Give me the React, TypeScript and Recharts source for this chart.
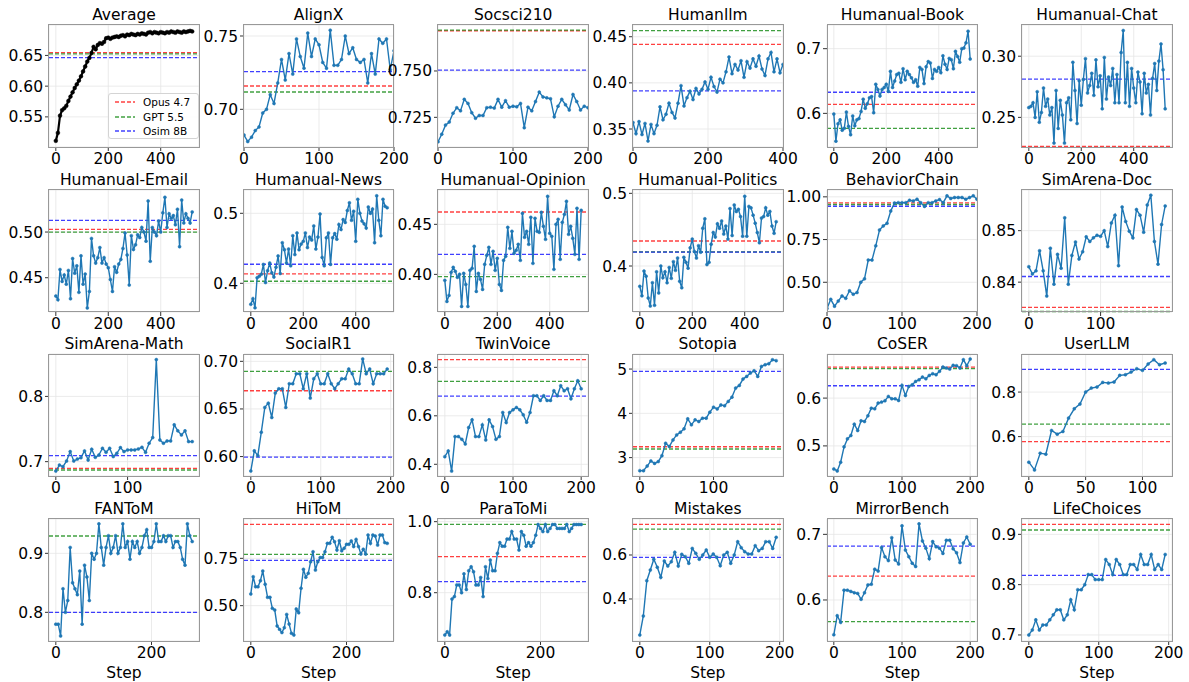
import React from 'react';
import { LineChart, Line, XAxis, YAxis, CartesianGrid, ReferenceLine } from 'recharts';

// Reference models (same order in every panel's refs list)
const REF_NAMES = ['Opus 4.7', 'GPT 5.5', 'Osim 8B'];
const REF_COLORS = ['red', 'green', 'blue'];

// ---- Series values ----
const averageVals = [0.511,0.524,0.552,0.561,0.564,0.568,0.576,0.583,0.590,0.597,0.603,0.609,0.616,0.624,0.632,0.640,0.646,0.654,0.664,0.660,0.667,0.670,0.669,0.672,0.678,0.679,0.677,0.679,0.680,0.681,0.680,0.682,0.683,0.681,0.684,0.683,0.685,0.684,0.683,0.685,0.684,0.686,0.685,0.684,0.687,0.688,0.686,0.688,0.687,0.686,0.688,0.687,0.686,0.688,0.687,0.689,0.688,0.687,0.689,0.688,0.687,0.689,0.688,0.689,0.690,0.689];
const alignxVals = [0.6825,0.678,0.681,0.6855,0.688,0.6975,0.700,0.710,0.704,0.718,0.734,0.720,0.738,0.724,0.748,0.736,0.728,0.752,0.736,0.748,0.744,0.732,0.728,0.754,0.730,0.730,0.734,0.750,0.738,0.742,0.734,0.732,0.734,0.718,0.738,0.724,0.748,0.745,0.748,0.727,0.740];
const socsciVals = [0.7118,0.7159,0.7208,0.7225,0.7272,0.7302,0.7285,0.7347,0.7325,0.7275,0.7245,0.726,0.726,0.7302,0.7305,0.730,0.7347,0.7305,0.734,0.7305,0.731,0.7307,0.7325,0.7194,0.7305,0.7285,0.7335,0.7386,0.736,0.7355,0.735,0.7253,0.731,0.7347,0.7318,0.729,0.7373,0.7335,0.729,0.731,0.7302];
const humanllmVals = [0.357,0.345,0.358,0.344,0.356,0.337,0.355,0.345,0.354,0.374,0.360,0.366,0.378,0.368,0.362,0.378,0.397,0.375,0.384,0.391,0.382,0.394,0.388,0.393,0.401,0.393,0.406,0.396,0.390,0.404,0.400,0.412,0.428,0.410,0.420,0.414,0.424,0.406,0.423,0.416,0.426,0.418,0.429,0.415,0.408,0.426,0.433,0.412,0.426,0.411,0.420];
const bookVals = [0.599,0.557,0.584,0.590,0.574,0.577,0.602,0.580,0.567,0.596,0.581,0.590,0.592,0.603,0.622,0.608,0.615,0.624,0.626,0.601,0.645,0.637,0.627,0.637,0.640,0.645,0.634,0.665,0.640,0.650,0.660,0.662,0.648,0.669,0.652,0.665,0.660,0.655,0.648,0.652,0.642,0.671,0.668,0.646,0.672,0.680,0.678,0.654,0.668,0.665,0.671,0.663,0.689,0.676,0.668,0.685,0.683,0.669,0.696,0.688,0.679,0.700,0.701,0.709,0.727,0.684];
const chatVals = [0.258,0.259,0.262,0.250,0.271,0.246,0.254,0.274,0.259,0.265,0.252,0.258,0.229,0.272,0.241,0.264,0.252,0.229,0.262,0.266,0.248,0.295,0.272,0.245,0.280,0.260,0.281,0.298,0.270,0.276,0.286,0.268,0.297,0.275,0.284,0.257,0.299,0.265,0.283,0.276,0.290,0.262,0.285,0.262,0.303,0.321,0.262,0.295,0.259,0.290,0.274,0.262,0.287,0.279,0.253,0.286,0.270,0.277,0.252,0.282,0.294,0.272,0.296,0.310,0.289,0.257];
const emailVals = [0.430,0.426,0.459,0.446,0.453,0.443,0.458,0.427,0.471,0.455,0.463,0.434,0.474,0.443,0.454,0.417,0.435,0.493,0.474,0.466,0.472,0.483,0.466,0.472,0.465,0.461,0.448,0.435,0.462,0.456,0.465,0.470,0.482,0.499,0.475,0.442,0.496,0.481,0.486,0.497,0.494,0.505,0.500,0.490,0.534,0.468,0.505,0.500,0.496,0.512,0.500,0.521,0.538,0.505,0.520,0.515,0.518,0.508,0.525,0.484,0.535,0.510,0.520,0.515,0.510,0.522];
const newsVals = [0.370,0.378,0.365,0.408,0.410,0.413,0.427,0.401,0.418,0.429,0.415,0.409,0.423,0.439,0.414,0.458,0.448,0.429,0.449,0.425,0.468,0.441,0.472,0.448,0.456,0.460,0.472,0.451,0.466,0.462,0.482,0.449,0.466,0.499,0.437,0.425,0.465,0.472,0.427,0.465,0.471,0.463,0.484,0.477,0.491,0.487,0.504,0.515,0.490,0.503,0.460,0.520,0.500,0.489,0.485,0.479,0.509,0.500,0.506,0.458,0.525,0.490,0.468,0.520,0.510,0.508];
const opinionVals = [0.394,0.373,0.379,0.402,0.407,0.403,0.397,0.400,0.368,0.401,0.390,0.368,0.404,0.406,0.428,0.383,0.401,0.395,0.385,0.410,0.419,0.427,0.410,0.423,0.404,0.416,0.390,0.384,0.414,0.418,0.447,0.426,0.443,0.421,0.424,0.430,0.414,0.461,0.437,0.443,0.430,0.457,0.411,0.456,0.443,0.442,0.462,0.448,0.435,0.478,0.441,0.438,0.405,0.450,0.455,0.415,0.452,0.460,0.473,0.440,0.448,0.436,0.420,0.466,0.415,0.464];
const politicsVals = [0.372,0.359,0.393,0.386,0.356,0.345,0.377,0.346,0.392,0.363,0.400,0.384,0.392,0.377,0.398,0.383,0.406,0.394,0.411,0.379,0.370,0.412,0.405,0.397,0.425,0.437,0.420,0.411,0.428,0.419,0.452,0.465,0.402,0.405,0.430,0.446,0.440,0.458,0.452,0.462,0.444,0.455,0.437,0.479,0.442,0.484,0.475,0.478,0.468,0.441,0.496,0.441,0.482,0.480,0.470,0.459,0.446,0.432,0.466,0.468,0.480,0.470,0.475,0.455,0.445,0.461];
const behaviorVals = [0.347,0.400,0.360,0.390,0.420,0.406,0.450,0.430,0.440,0.500,0.520,0.630,0.630,0.713,0.806,0.830,0.845,0.917,0.964,0.966,0.966,0.966,0.980,0.976,0.986,0.966,0.944,0.966,0.966,0.976,0.984,0.966,1.006,0.990,0.996,0.996,0.996,0.986,0.996,1.006,0.986];
const docVals = [0.843,0.8416,0.8422,0.8461,0.8422,0.8373,0.8466,0.8396,0.8454,0.8427,0.8525,0.8396,0.8452,0.8478,0.8445,0.8459,0.8488,0.8479,0.8486,0.8491,0.8489,0.85,0.8469,0.8515,0.853,0.8432,0.8546,0.8518,0.8499,0.8486,0.8541,0.853,0.8497,0.855,0.8569,0.8479,0.8435,0.8512,0.8548];
const mathVals = [0.6856,0.6948,0.6923,0.701,0.7154,0.701,0.704,0.7061,0.7164,0.7025,0.719,0.7066,0.7102,0.7205,0.7143,0.7205,0.7077,0.7128,0.7215,0.7154,0.718,0.718,0.718,0.7195,0.722,0.7143,0.7282,0.7369,0.8564,0.7333,0.7282,0.7318,0.7318,0.7564,0.7472,0.741,0.7472,0.7307,0.7307];
const socialVals = [0.5849,0.606,0.601,0.6256,0.6516,0.6561,0.641,0.6667,0.6712,0.6712,0.6516,0.6765,0.6765,0.687,0.687,0.6712,0.687,0.6614,0.6817,0.687,0.6765,0.6765,0.687,0.6765,0.6712,0.6765,0.6817,0.6817,0.6919,0.687,0.6765,0.6765,0.7025,0.687,0.6919,0.6765,0.687,0.687,0.687,0.6919];
const twinVals = [0.4316,0.455,0.372,0.5143,0.5143,0.503,0.484,0.5516,0.5833,0.5143,0.5143,0.5626,0.5005,0.5833,0.5557,0.503,0.5143,0.6137,0.5723,0.6137,0.6247,0.6344,0.6247,0.604,0.5737,0.6137,0.6827,0.6827,0.6634,0.6827,0.6634,0.6634,0.7034,0.6827,0.7241,0.7034,0.7117,0.6703,0.7117,0.7448,0.7117];
const sotopiaVals = [2.706,2.706,2.81,2.925,2.87,2.91,3.045,3.325,3.25,3.4,3.513,3.574,3.65,3.875,3.74,3.853,3.815,3.89,3.89,4.026,4.14,4.1,4.19,4.17,4.27,4.366,4.57,4.63,4.774,4.834,4.909,4.962,4.834,5.06,5.098,5.12,5.21,5.19];
const coserVals = [0.4518,0.4476,0.4658,0.498,0.5147,0.5217,0.5455,0.5322,0.5525,0.551,0.563,0.579,0.5776,0.5895,0.5916,0.5944,0.6035,0.5986,0.5986,0.595,0.6266,0.6056,0.6245,0.628,0.635,0.6384,0.644,0.6405,0.6475,0.651,0.649,0.656,0.665,0.663,0.6608,0.6685,0.6678,0.663,0.6804,0.6678,0.6818];
const userllmVals = [0.485,0.4505,0.5255,0.521,0.6275,0.611,0.623,0.683,0.725,0.746,0.80,0.818,0.8225,0.8435,0.8405,0.845,0.875,0.878,0.89,0.905,0.8975,0.926,0.9455,0.923,0.9305];
const fantomVals = [0.78,0.78,0.76,0.84,0.80,0.82,0.91,0.85,0.84,0.83,0.87,0.78,0.88,0.86,0.82,0.90,0.89,0.90,0.95,0.91,0.88,0.91,0.93,0.90,0.91,0.93,0.90,0.91,0.95,0.91,0.92,0.89,0.92,0.91,0.92,0.90,0.91,0.93,0.94,0.91,0.91,0.92,0.95,0.92,0.92,0.93,0.92,0.93,0.93,0.91,0.92,0.92,0.91,0.89,0.88,0.95,0.93,0.92];
const hitomVals = [0.562,0.653,0.60,0.60,0.632,0.683,0.613,0.544,0.544,0.486,0.477,0.393,0.375,0.358,0.384,0.454,0.403,0.354,0.345,0.482,0.463,0.592,0.692,0.65,0.671,0.732,0.785,0.688,0.732,0.754,0.754,0.785,0.829,0.829,0.861,0.838,0.794,0.843,0.79,0.803,0.824,0.824,0.842,0.812,0.85,0.812,0.773,0.798,0.773,0.873,0.829,0.873,0.868,0.82,0.873,0.873,0.833,0.829];
const paratomiVals = [0.681,0.69,0.681,0.782,0.789,0.822,0.822,0.80,0.853,0.809,0.862,0.873,0.859,0.822,0.822,0.843,0.789,0.873,0.84,0.892,0.862,0.862,0.911,0.941,0.931,0.931,0.951,0.951,0.972,0.951,0.951,0.92,0.972,0.962,0.931,0.941,0.931,0.941,0.962,0.992,0.981,0.972,0.992,0.972,0.981,0.992,0.992,0.981,0.981,0.981,0.981,0.992,0.972,0.981,0.992,0.992,0.992,0.992];
const mistakesVals = [0.2364,0.3227,0.4833,0.5318,0.5803,0.544,0.4985,0.5727,0.55,0.5697,0.6121,0.55,0.603,0.5924,0.5621,0.63,0.6076,0.5803,0.60,0.6227,0.5894,0.6045,0.5894,0.5515,0.60,0.6121,0.5621,0.60,0.6606,0.6333,0.6152,0.6045,0.6045,0.6424,0.6197,0.63,0.6606,0.6606,0.63,0.6803];
const mirrorVals = [0.547,0.576,0.566,0.615,0.615,0.613,0.611,0.610,0.601,0.611,0.623,0.624,0.647,0.644,0.680,0.666,0.660,0.695,0.661,0.655,0.713,0.676,0.666,0.656,0.651,0.716,0.690,0.679,0.663,0.689,0.681,0.679,0.671,0.691,0.691,0.678,0.672,0.657,0.687,0.696,0.685];
const lifeVals = [0.70,0.71,0.73,0.71,0.72,0.72,0.73,0.74,0.75,0.75,0.73,0.74,0.77,0.75,0.79,0.79,0.80,0.82,0.82,0.81,0.81,0.81,0.85,0.84,0.82,0.85,0.84,0.82,0.82,0.84,0.84,0.83,0.86,0.84,0.84,0.86,0.83,0.84,0.83,0.86];

// ---- Baseline scores [Opus 4.7, GPT 5.5, Osim 8B] ----
const averageRefs = [0.6545, 0.6525, 0.6465];
const alignxRefs = [0.7159, 0.7118, 0.7257];
const socsciRefs = [0.7716, 0.772, 0.7505];
const humanllmRefs = [0.4418, 0.4565, 0.3913];
const bookRefs = [0.6139, 0.5768, 0.6326];
const chatRefs = [0.2262, 0.21, 0.2813];
const emailRefs = [0.503, 0.5, 0.5128];
const newsRefs = [0.4134, 0.4029, 0.4272];
const opinionRefs = [0.4623, 0.3977, 0.42];
const politicsRefs = [0.4344, 0.4195, 0.419];
const behaviorRefs = [0.965, 0.955, 0.945];
const docRefs = [0.8351, 0.8343, 0.8411];
const mathRefs = [0.6897, 0.6872, 0.7092];
const socialRefs = [0.6691, 0.6895, 0.5995];
const twinRefs = [0.8317, 0.742, 0.6813];
const sotopiaRefs = [3.245, 3.195, 4.947];
const coserRefs = [0.665, 0.6615, 0.6259];
const userllmRefs = [0.5775, 0.656, 0.902];
const fantomRefs = [0.97, 0.9294, 0.8];
const hitomRefs = [0.9295, 0.7704, 0.7387];
const paratomiRefs = [0.9014, 0.9925, 0.831];
const mistakesRefs = [0.7394, 0.718, 0.5894];
const mirrorRefs = [0.6365, 0.5669, 0.6822];
const lifeRefs = [0.9199, 0.9086, 0.8186];

type PanelDef = {
  title: string;
  values: number[];
  step: number;
  refs: number[];
  xDomain: [number, number];
  xTicks: number[];
  yDomain: [number, number];
  yTicks: number[];
  dec: number;
  color?: string;
};

const PANELS: PanelDef[] = [
  { title: 'Average', values: averageVals, step: 8, refs: averageRefs, xDomain: [-26, 546], xTicks: [0, 200, 400], yDomain: [0.501, 0.6995], yTicks: [0.55, 0.6, 0.65], dec: 2, color: '#000' },
  { title: 'AlignX', values: alignxVals, step: 5, refs: alignxRefs, xDomain: [0, 200], xTicks: [0, 100, 200], yDomain: [0.6743, 0.7575], yTicks: [0.7, 0.75], dec: 2 },
  { title: 'Socsci210', values: socsciVals, step: 5, refs: socsciRefs, xDomain: [0, 200], xTicks: [0, 100, 200], yDomain: [0.709, 0.7748], yTicks: [0.725, 0.75], dec: 3 },
  { title: 'Humanllm', values: humanllmVals, step: 8, refs: humanllmRefs, xDomain: [0, 400], xTicks: [0, 200, 400], yDomain: [0.3305, 0.4627], yTicks: [0.35, 0.4, 0.45], dec: 2 },
  { title: 'Humanual-Book', values: bookVals, step: 8, refs: bookRefs, xDomain: [-26, 546], xTicks: [0, 200, 400], yDomain: [0.548, 0.7366], yTicks: [0.6, 0.7], dec: 1 },
  { title: 'Humanual-Chat', values: chatVals, step: 8, refs: chatRefs, xDomain: [-26, 546], xTicks: [0, 200, 400], yDomain: [0.2258, 0.3255], yTicks: [0.25, 0.3], dec: 2 },
  { title: 'Humanual-Email', values: emailVals, step: 8, refs: emailRefs, xDomain: [-26, 546], xTicks: [0, 200, 400], yDomain: [0.4125, 0.546], yTicks: [0.45, 0.5], dec: 2 },
  { title: 'Humanual-News', values: newsVals, step: 8, refs: newsRefs, xDomain: [-26, 546], xTicks: [0, 200, 400], yDomain: [0.359, 0.5333], yTicks: [0.4, 0.5], dec: 1 },
  { title: 'Humanual-Opinion', values: opinionVals, step: 8, refs: opinionRefs, xDomain: [-26, 546], xTicks: [0, 200, 400], yDomain: [0.3624, 0.4843], yTicks: [0.4, 0.45], dec: 2 },
  { title: 'Humanual-Politics', values: politicsVals, step: 8, refs: politicsRefs, xDomain: [-26, 546], xTicks: [0, 200, 400], yDomain: [0.3367, 0.5046], yTicks: [0.4, 0.5], dec: 1 },
  { title: 'BehaviorChain', values: behaviorVals, step: 5, refs: behaviorRefs, xDomain: [0, 200], xTicks: [0, 100, 200], yDomain: [0.326, 1.04], yTicks: [0.5, 0.75, 1.0], dec: 2 },
  { title: 'SimArena-Doc', values: docVals, step: 5, refs: docRefs, xDomain: [-9.5, 199.5], xTicks: [0, 100], yDomain: [0.8342, 0.8579], yTicks: [0.84, 0.85], dec: 2 },
  { title: 'SimArena-Math', values: mathVals, step: 5, refs: mathRefs, xDomain: [-9.5, 199.5], xTicks: [0, 100], yDomain: [0.678, 0.865], yTicks: [0.7, 0.8], dec: 1 },
  { title: 'SocialR1', values: socialVals, step: 5, refs: socialRefs, xDomain: [-9.75, 204.75], xTicks: [0, 100, 200], yDomain: [0.5796, 0.7077], yTicks: [0.6, 0.65, 0.7], dec: 2 },
  { title: 'TwinVoice', values: twinVals, step: 5, refs: twinRefs, xDomain: [-10, 210], xTicks: [0, 100, 200], yDomain: [0.3517, 0.855], yTicks: [0.4, 0.6, 0.8], dec: 1 },
  { title: 'Sotopia', values: sotopiaVals, step: 5, refs: sotopiaRefs, xDomain: [-9.25, 194.25], xTicks: [0, 100], yDomain: [2.585, 5.34], yTicks: [3, 4, 5], dec: 0 },
  { title: 'CoSER', values: coserVals, step: 5, refs: coserRefs, xDomain: [-10, 210], xTicks: [0, 100, 200], yDomain: [0.437, 0.6923], yTicks: [0.5, 0.6], dec: 1 },
  { title: 'UserLLM', values: userllmVals, step: 5, refs: userllmRefs, xDomain: [-6, 126], xTicks: [0, 50, 100], yDomain: [0.423, 0.971], yTicks: [0.6, 0.8], dec: 1 },
  { title: 'FANToM', values: fantomVals, step: 5, refs: fantomRefs, xDomain: [-14.25, 299.25], xTicks: [0, 200], yDomain: [0.7514, 0.9582], yTicks: [0.8, 0.9], dec: 1 },
  { title: 'HiToM', values: hitomVals, step: 5, refs: hitomRefs, xDomain: [-14.25, 299.25], xTicks: [0, 200], yDomain: [0.3134, 0.9577], yTicks: [0.5, 0.75], dec: 2 },
  { title: 'ParaToMi', values: paratomiVals, step: 5, refs: paratomiRefs, xDomain: [-14.25, 299.25], xTicks: [0, 200], yDomain: [0.664, 1.0075], yTicks: [0.8, 1.0], dec: 1 },
  { title: 'Mistakes', values: mistakesVals, step: 5, refs: mistakesRefs, xDomain: [-9.75, 204.75], xTicks: [0, 100, 200], yDomain: [0.209, 0.7636], yTicks: [0.4, 0.6], dec: 1 },
  { title: 'MirrorBench', values: mirrorVals, step: 5, refs: mirrorRefs, xDomain: [-10, 210], xTicks: [0, 100, 200], yDomain: [0.5375, 0.7234], yTicks: [0.6, 0.7], dec: 1 },
  { title: 'LifeChoices', values: lifeVals, step: 5, refs: lifeRefs, xDomain: [-9.75, 204.75], xTicks: [0, 100, 200], yDomain: [0.688, 0.9305], yTicks: [0.7, 0.8, 0.9], dec: 1 },
];

const FONT = 'DejaVu Sans, sans-serif';
const COL_LEFT = 49;
const COL_STEP = 194.6;
const ROW_TOP = 25;
const ROW_STEP = 164.7;
const PW = 150;
const PH = 122;
const YW = 60;
const RIGHT_PAD = 30;
const TICK_FONT = 15.5;

const Panel: React.FC<{ p: PanelDef; idx: number }> = ({ p, idx }) => {
  const col = idx % 6;
  const row = Math.floor(idx / 6);
  const left = COL_LEFT + col * COL_STEP;
  const top = ROW_TOP + row * ROW_STEP;
  const data = p.values.map((v, i) => ({ step: i * p.step, value: v }));
  const color = p.color || '#1f77b4';
  const tickStyle = { fill: '#000', fontSize: TICK_FONT, fontFamily: FONT };

  return (
    <>
      <div
        style={{
          position: 'absolute',
          left: left - 30,
          width: PW + 60,
          top: top - 18,
          textAlign: 'center',
          fontSize: TICK_FONT,
          lineHeight: '17px',
          whiteSpace: 'nowrap',
        }}
      >
        {p.title}
      </div>
      <div style={{ position: 'absolute', left: left - YW, top: top - 5 }}>
        <LineChart
          width={YW + PW + RIGHT_PAD}
          height={5 + PH + 30}
          data={data}
          margin={{ top: 5, right: RIGHT_PAD, bottom: 0, left: 0 }}
        >
          <CartesianGrid stroke="#e6e6e6" strokeWidth={0.8} />
          <XAxis
            dataKey="step"
            type="number"
            domain={p.xDomain}
            ticks={p.xTicks}
            allowDataOverflow
            interval={0}
            height={30}
            tickSize={4}
            tickMargin={2}
            axisLine={false}
            tickLine={{ stroke: '#333' }}
            tick={tickStyle}
          />
          <YAxis
            type="number"
            domain={p.yDomain}
            ticks={p.yTicks}
            allowDataOverflow
            interval={0}
            width={YW}
            tickSize={4}
            tickMargin={2}
            axisLine={false}
            tickLine={{ stroke: '#333' }}
            tick={tickStyle}
            tickFormatter={(v: number) => v.toFixed(p.dec)}
          />
          {p.refs.map((r, i) => (
            <ReferenceLine
              key={i}
              y={r}
              stroke={REF_COLORS[i]}
              strokeOpacity={0.75}
              strokeWidth={1.3}
              strokeDasharray="4 2"
              ifOverflow="discard"
            />
          ))}
          <Line
            dataKey="value"
            type="linear"
            stroke={color}
            strokeWidth={p.color ? 2.2 : 1.4}
            dot={{ r: p.color ? 1.9 : 1.5, fill: color, stroke: color, strokeWidth: 0.5 }}
            isAnimationActive={false}
          />
        </LineChart>
      </div>
      {/* axes frame */}
      <div
        style={{
          position: 'absolute',
          left: left - 0.8,
          top: top - 0.8,
          width: PW + 1.6,
          height: PH + 1.6,
          border: '1.6px solid #999',
          boxSizing: 'border-box',
          pointerEvents: 'none',
        }}
      />
      {row === 3 && (
        <div
          style={{
            position: 'absolute',
            left: left,
            width: PW,
            top: 664,
            textAlign: 'center',
            fontSize: TICK_FONT,
            lineHeight: '18px',
          }}
        >
          Step
        </div>
      )}
    </>
  );
};

const LegendBox: React.FC = () => (
  <div
    style={{
      position: 'absolute',
      left: 108,
      top: 93,
      width: 89,
      height: 44,
      border: '1px solid #d4d4d4',
      borderRadius: 3,
      background: 'rgba(255,255,255,0.85)',
      fontSize: 10.5,
    }}
  >
    {REF_NAMES.map((name, i) => (
      <div key={name} style={{ position: 'absolute', left: 0, top: 1 + i * 14.5, height: 14, width: 89 }}>
        <svg width={24} height={14} style={{ position: 'absolute', left: 6, top: 0 }}>
          <line x1={0} y1={7} x2={20} y2={7} stroke={REF_COLORS[i]} strokeOpacity={0.75} strokeWidth={1.3} strokeDasharray="4 2" />
        </svg>
        <span style={{ position: 'absolute', left: 34, top: 0, lineHeight: '14px', whiteSpace: 'nowrap' }}>{name}</span>
      </div>
    ))}
  </div>
);

export default function App() {
  return (
    <div
      style={{
        position: 'absolute',
        left: 0,
        top: 0,
        width: 1189,
        height: 682,
        background: '#fff',
        fontFamily: FONT,
        color: '#000',
        overflow: 'hidden',
      }}
    >
      {PANELS.map((p, i) => (
        <Panel key={p.title} p={p} idx={i} />
      ))}
      <LegendBox />
    </div>
  );
}
